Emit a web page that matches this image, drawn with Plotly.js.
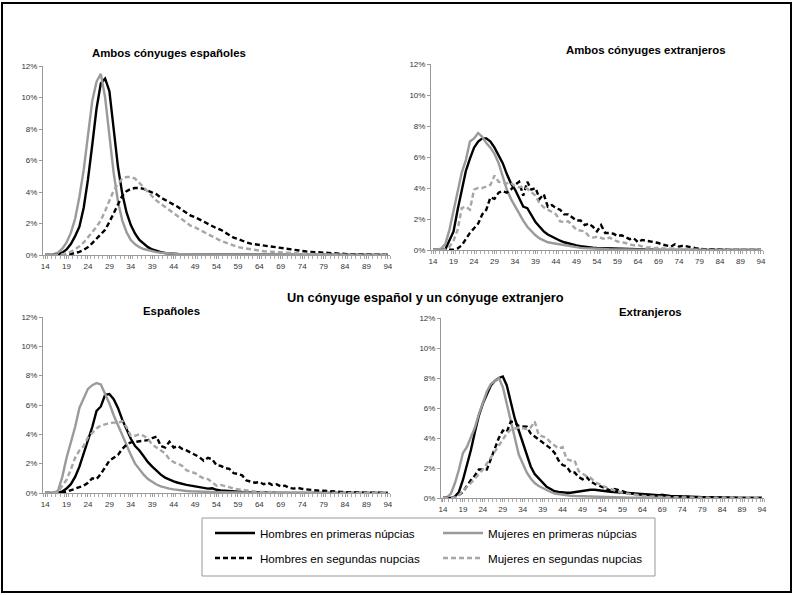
<!DOCTYPE html>
<html>
<head>
<meta charset="utf-8">
<script src="https://cdn.plot.ly/plotly-3.0.1.min.js"></script>
<style>html,body{margin:0;padding:0;background:#fff;}#chart{width:794px;height:595px;}</style>
</head>
<body>
<div id="chart"></div>
<script>
// Ages 14..94
const ages = [14,15,16,17,18,19,20,21,22,23,24,25,26,27,28,29,30,31,32,33,34,35,36,37,38,39,40,41,42,43,44,45,46,47,48,49,50,51,52,53,54,55,56,57,58,59,60,61,62,63,64,65,66,67,68,69,70,71,72,73,74,75,76,77,78,79,80,81,82,83,84,85,86,87,88,89,90,91,92,93,94];
const tickAges = [14,19,24,29,34,39,44,49,54,59,64,69,74,79,84,89,94];
const yTicks = [0,2,4,6,8,10,12];
const seriesNames = ["Hombres en primeras núpcias","Mujeres en primeras núpcias","Hombres en segundas nupcias","Mujeres en segundas nupcias"];
const panelTitles = ["Ambos cónyuges españoles","Ambos cónyuges extranjeros","Españoles","Extranjeros"];
const groupTitle = "Un cónyuge español y un cónyuge extranjero";

// Panel 1: Ambos cónyuges españoles (%)
const hom1Esp = [0,0,0,0.05,0.15,0.35,0.7,1.2,1.8,3.0, 4.8,7.0,9.3,10.9,11.2,10.4,8.0,5.6,3.9,2.7, 1.9,1.35,0.95,0.7,0.5,0.35,0.25,0.18,0.13,0.1, 0.07,0.05,0.04,0.03,0.03,0.02,0.02,0.02,0.01,0.01, 0.01,0.01,0.01,0.01,0.01,0.01,0,0,0,0, 0,0,0,0,0,0,0,0,0,0, 0,0,0,0,0,0,0,0,0,0, 0,0,0,0,0,0,0,0,0,0, 0];
const muj1Esp = [0,0,0.05,0.15,0.4,0.8,1.4,2.3,3.7,5.4, 7.6,9.8,11.0,11.5,10.0,7.5,5.2,3.4,2.2,1.45, 0.95,0.68,0.5,0.38,0.3,0.23,0.18,0.14,0.11,0.09, 0.07,0.06,0.05,0.04,0.03,0.03,0.02,0.02,0.01,0.01, 0.01,0.01,0.01,0,0,0,0,0,0,0, 0,0,0,0,0,0,0,0,0,0, 0,0,0,0,0,0,0,0,0,0, 0,0,0,0,0,0,0,0,0,0, 0];
const hom2Esp = [0,0,0,0,0.01,0.03,0.06,0.12,0.2,0.32, 0.5,0.75,1.05,1.35,1.6,2.1,2.65,3.2,3.75,4.05, 4.2,4.25,4.25,4.2,4.1,4.0,3.85,3.65,3.5,3.35, 3.25,3.05,2.85,2.65,2.5,2.4,2.25,2.1,1.95,1.8, 1.7,1.6,1.45,1.25,1.1,1.02,0.9,0.8,0.72,0.68, 0.65,0.6,0.55,0.5,0.47,0.43,0.4,0.36,0.32,0.28, 0.25,0.22,0.2,0.18,0.15,0.13,0.11,0.1,0.08,0.07, 0.06,0.05,0.04,0.04,0.03,0.03,0.02,0.02,0.01,0.01, 0.01];
const muj2Esp = [0,0,0,0.02,0.05,0.1,0.2,0.35,0.55,0.8, 1.1,1.45,1.8,2.2,2.8,3.5,4.1,4.5,4.85,4.95, 4.95,4.85,4.6,4.3,4.0,3.7,3.45,3.25,3.05,2.85, 2.65,2.45,2.3,2.1,1.85,1.75,1.6,1.45,1.3,1.15, 1.0,0.9,0.8,0.7,0.6,0.5,0.45,0.4,0.35,0.3, 0.27,0.24,0.22,0.2,0.17,0.15,0.13,0.12,0.1,0.09, 0.08,0.07,0.06,0.05,0.04,0.04,0.03,0.03,0.02,0.02, 0.02,0.01,0.01,0.01,0.01,0.01,0,0,0,0, 0];

// Panel 2: Ambos cónyuges extranjeros (%)
const hom1Ext = [0,0,0,0.05,0.6,1.2,2.6,3.9,5.1,5.9, 6.6,7.0,7.2,7.2,7.0,6.6,6.1,5.6,4.9,4.3, 3.9,3.3,2.8,2.7,2.2,1.8,1.5,1.2,1.0,0.85, 0.7,0.6,0.5,0.42,0.36,0.3,0.25,0.2,0.17,0.15, 0.13,0.12,0.1,0.09,0.08,0.07,0.06,0.05,0.04,0.04, 0.03,0.03,0.02,0.02,0.02,0.01,0.01,0.01,0.01,0.01, 0,0,0,0,0,0,0,0,0,0, 0,0,0,0,0,0,0,0,0,0, 0];
const muj1Ext = [0,0,0.1,0.4,1.3,2.5,3.9,5.0,5.8,7.0, 7.2,7.55,7.3,6.9,6.6,6.2,5.6,4.7,3.9,3.3, 2.8,2.3,1.9,1.5,1.2,0.95,0.75,0.6,0.5,0.45, 0.4,0.35,0.3,0.25,0.2,0.17,0.14,0.12,0.1,0.09, 0.08,0.07,0.06,0.05,0.05,0.04,0.04,0.03,0.03,0.02, 0.02,0.02,0.01,0.01,0.01,0.01,0,0,0,0, 0,0,0,0,0,0,0,0,0,0, 0,0,0,0,0,0,0,0,0,0, 0];
const hom2Ext = [0,0,0,0,0,0.02,0.1,0.3,0.7,1.1, 1.4,1.7,2.3,2.6,3.4,3.3,3.7,3.8,3.7,3.9, 4.2,4.4,3.5,4.4,3.9,4.0,3.3,3.6,2.8,2.9, 2.7,2.6,2.3,2.3,2.1,1.9,1.9,1.6,1.7,1.5, 1.2,1.6,1.1,1.1,1.05,0.9,0.95,0.85,0.7,0.75, 0.5,0.65,0.6,0.55,0.5,0.45,0.35,0.3,0.22,0.37, 0.22,0.28,0.22,0.18,0.12,0.1,0.05,0.06,0.04,0.03, 0.02,0.02,0.01,0.01,0.01,0.02,0.01,0,0,0, 0];
const muj2Ext = [0,0,0,0.05,0.2,0.6,1.3,2.7,2.8,2.6, 3.9,4.0,4.0,4.1,4.2,4.8,4.4,4.35,4.3,4.35, 4.1,4.05,4.1,3.95,3.7,3.5,3.0,2.75,2.6,2.45, 2.3,1.85,1.8,1.85,1.6,1.3,1.25,1.2,0.9,0.8, 0.85,0.75,0.7,0.8,0.65,0.55,0.5,0.45,0.35,0.3, 0.32,0.25,0.15,0.18,0.12,0.15,0.1,0.08,0.1,0.06, 0.05,0.04,0.03,0.03,0.02,0.01,0.01,0.01,0.01,0.01, 0.01,0,0,0,0,0,0,0,0,0, 0];

// Panel 3: Un cónyuge español y uno extranjero - Españoles (%)
const hom1MixEsp = [0,0,0,0.02,0.1,0.3,0.6,1.1,1.8,2.7, 3.5,4.5,5.6,5.9,6.7,6.75,6.4,5.8,5.0,4.3, 3.7,3.2,2.9,2.5,2.1,1.8,1.5,1.25,1.05,0.9, 0.8,0.7,0.6,0.55,0.5,0.45,0.4,0.35,0.3,0.32, 0.22,0.18,0.15,0.13,0.1,0.08,0.07,0.06,0.05,0.04, 0.04,0.03,0.03,0.02,0.02,0.02,0.01,0.01,0.01,0.01, 0,0,0,0,0,0,0,0,0,0, 0,0,0,0,0,0,0,0,0,0, 0];
const muj1MixEsp = [0,0,0.02,0.15,1.1,2.4,3.4,4.5,5.8,6.5, 7.1,7.35,7.5,7.4,6.8,6.1,5.3,4.6,3.9,3.2, 2.6,2.0,1.6,1.25,0.95,0.75,0.58,0.45,0.35,0.3, 0.25,0.2,0.17,0.14,0.12,0.1,0.09,0.08,0.07,0.06, 0.05,0.05,0.04,0.04,0.03,0.03,0.02,0.02,0.02,0.01, 0.01,0.01,0.01,0,0,0,0,0,0,0, 0,0,0,0,0,0,0,0,0,0, 0,0,0,0,0,0,0,0,0,0, 0];
const hom2MixEsp = [0,0,0,0,0.02,0.08,0.2,0.3,0.4,0.5, 0.7,1.0,0.95,1.3,1.8,2.2,2.4,2.6,3.0,3.3, 3.45,3.5,3.5,3.55,3.6,3.75,3.85,3.2,3.1,3.5, 3.1,3.2,3.0,2.9,2.75,2.6,2.45,2.2,2.4,2.3, 1.9,1.85,1.7,1.65,1.35,1.3,1.2,0.85,0.8,0.7, 0.75,0.6,0.7,0.55,0.6,0.45,0.5,0.35,0.3,0.35, 0.28,0.25,0.18,0.2,0.15,0.15,0.12,0.1,0.1,0.08, 0.06,0.05,0.04,0.03,0.02,0.02,0.01,0.01,0,0, 0];
const muj2MixEsp = [0,0,0,0.05,0.5,0.9,1.6,2.4,2.9,3.2, 3.8,4.1,4.4,4.6,4.7,4.75,4.8,4.8,4.9,4.5, 3.9,3.9,4.0,3.9,3.7,3.3,3.1,2.9,2.7,2.3, 2.1,2.0,1.85,1.55,1.45,1.35,1.15,1.0,0.95,0.7, 0.5,0.55,0.5,0.4,0.3,0.25,0.2,0.15,0.12,0.1, 0.08,0.07,0.06,0.05,0.04,0.04,0.03,0.03,0.02,0.02, 0.02,0.01,0.01,0.01,0.01,0.01,0.01,0.01,0.01,0.01, 0,0,0,0,0,0,0,0,0,0, 0];

// Panel 4: Un cónyuge español y uno extranjero - Extranjeros (%)
const hom1MixExt = [0,0,0,0.1,0.4,1.2,2.2,3.2,4.4,5.5, 6.3,6.9,7.5,7.8,8.0,8.1,7.5,6.4,5.3,4.5, 3.7,2.8,2.1,1.6,1.3,1.0,0.75,0.6,0.45,0.4, 0.35,0.35,0.35,0.4,0.45,0.5,0.55,0.55,0.55,0.5, 0.5,0.45,0.42,0.4,0.4,0.38,0.35,0.32,0.3,0.28, 0.25,0.22,0.2,0.2,0.18,0.2,0.15,0.13,0.12,0.12, 0.1,0.1,0.08,0.08,0.07,0.06,0.05,0.04,0.03,0.03, 0.02,0.02,0.01,0.01,0.01,0.01,0,0,0,0, 0];
const muj1MixExt = [0,0.05,0.3,1.0,1.9,3.0,3.4,4.0,4.7,5.6, 6.4,7.1,7.6,7.8,8.0,7.4,6.3,5.1,3.9,2.9, 2.3,1.7,1.3,1.0,0.8,0.65,0.5,0.4,0.3,0.25, 0.2,0.17,0.15,0.13,0.12,0.1,0.1,0.08,0.08,0.07, 0.06,0.05,0.05,0.04,0.04,0.03,0.03,0.02,0.02,0.02, 0.01,0.01,0.01,0.01,0.01,0,0,0,0,0, 0,0,0,0,0,0,0,0,0,0, 0,0,0,0,0,0,0,0,0,0, 0];
const hom2MixExt = [0,0,0,0.05,0.2,0.4,0.8,1.2,1.5,1.9, 1.9,1.9,2.6,3.3,4.0,4.5,4.4,5.1,5.05,4.8, 4.8,4.75,4.3,4.1,3.9,3.7,3.5,3.3,3.0,2.5, 2.2,2.1,1.7,1.7,1.4,1.25,1.4,1.1,0.95,0.85, 0.7,0.6,0.5,0.6,0.55,0.45,0.35,0.3,0.28,0.25, 0.22,0.2,0.2,0.18,0.17,0.2,0.15,0.12,0.12,0.1, 0.1,0.08,0.07,0.06,0.06,0.05,0.04,0.04,0.03,0.02, 0.02,0.01,0.01,0.01,0.01,0.01,0.01,0.01,0.01,0.01, 0.01];
const muj2MixExt = [0,0,0,0.05,0.2,0.45,0.7,1.0,1.3,1.6, 1.9,2.3,2.7,3.1,3.5,3.9,4.3,4.55,4.65,4.7, 4.65,4.6,4.7,5.1,4.2,4.1,4.0,3.7,3.5,3.3, 3.4,2.6,2.5,2.5,1.8,1.6,1.45,1.35,1.1,0.95, 0.8,0.7,0.6,0.5,0.4,0.35,0.3,0.25,0.2,0.18, 0.15,0.12,0.1,0.1,0.08,0.07,0.06,0.05,0.05,0.04, 0.04,0.03,0.03,0.02,0.02,0.02,0.01,0.01,0.01,0.01, 0,0,0,0,0,0,0,0,0,0, 0];

const panels = [
  [hom1Esp, muj1Esp, hom2Esp, muj2Esp],
  [hom1Ext, muj1Ext, hom2Ext, muj2Ext],
  [hom1MixEsp, muj1MixEsp, hom2MixEsp, muj2MixEsp],
  [hom1MixExt, muj1MixExt, hom2MixExt, muj2MixExt]
];

const W = 794, H = 595;
const FONT = '"Liberation Sans", Arial, sans-serif';
const lineStyles = [
  {color: '#000000', width: 2.4, dash: 'solid'},
  {color: '#9a9a9a', width: 2.4, dash: 'solid'},
  {color: '#000000', width: 2.4, dash: '5px,3px'},
  {color: '#a6a6a6', width: 2.4, dash: '5px,3px'}
];
const legendIds = ['legend', 'legend2', 'legend3', 'legend4'];

const traces = [];
panels.forEach((series, p) => {
  const ax = p === 0 ? '' : String(p + 1);
  series.forEach((vals, s) => {
    traces.push({
      type: 'scatter', mode: 'lines',
      x: ages, y: vals,
      xaxis: 'x' + ax, yaxis: 'y' + ax,
      name: seriesNames[s],
      line: lineStyles[s],
      showlegend: p === 0,
      legend: legendIds[s],
      hoverinfo: 'skip'
    });
  });
});

// pixel boxes of plot areas: [left, right, bottom(0%), top(12%)]
const boxes = [
  [43, 390, 255, 66],
  [431, 763, 250, 64],
  [43, 390, 493, 317],
  [441, 764, 498, 318]
];

function xa(b) {
  return {
    domain: [b[0] / W, b[1] / W], range: [13.5, 94.5],
    tickmode: 'array', tickvals: tickAges, ticktext: tickAges.map(String),
    ticks: 'outside', ticklen: 3, tickcolor: '#999', tickwidth: 1,
    minor: {dtick: 1, tick0: 13.5, ticks: 'outside', ticklen: 3, tickcolor: '#aaa', tickwidth: 1},
    showline: true, linecolor: '#999', linewidth: 1,
    showgrid: false, zeroline: false,
    tickfont: {family: FONT, size: 8, color: '#333'}, fixedrange: true
  };
}
function ya(b) {
  return {
    domain: [1 - b[2] / H, 1 - b[3] / H], range: [0, 12],
    tickmode: 'array', tickvals: yTicks, ticktext: yTicks.map(v => v + '%'),
    ticks: 'outside', ticklen: 3, tickcolor: '#999',
    showline: true, linecolor: '#999', linewidth: 1,
    showgrid: false, zeroline: false,
    tickfont: {family: FONT, size: 8, color: '#333'}, fixedrange: true
  };
}

const layout = {
  width: W, height: H,
  margin: {l: 0, r: 0, t: 0, b: 0},
  paper_bgcolor: '#fff', plot_bgcolor: 'rgba(0,0,0,0)',
  font: {family: FONT, color: '#000'},
  showlegend: true,
  annotations: [
    {text: '<b>' + panelTitles[0] + '</b>', x: 169 / W, y: 1 - 53 / H},
    {text: '<b>' + panelTitles[1] + '</b>', x: 646 / W, y: 1 - 50 / H},
    {text: '<b>' + groupTitle + '</b>', x: 425 / W, y: 1 - 297 / H, size: 12.8},
    {text: '<b>' + panelTitles[2] + '</b>', x: 171 / W, y: 1 - 311 / H},
    {text: '<b>' + panelTitles[3] + '</b>', x: 650 / W, y: 1 - 312 / H}
  ].map(a => ({
    text: a.text, x: a.x, y: a.y, xref: 'paper', yref: 'paper',
    xanchor: 'center', yanchor: 'middle', showarrow: false,
    font: {family: FONT, size: a.size || 11.4, color: '#000'}
  })),
  shapes: [
    {type: 'rect', xref: 'paper', yref: 'paper', x0: 2 / W, x1: 791 / W, y0: 1 - 592 / H, y1: 1 - 3 / H,
     line: {color: '#000', width: 2}},
    {type: 'rect', xref: 'paper', yref: 'paper', x0: 202 / W, x1: 655 / W, y0: 1 - 576 / H, y1: 1 - 518 / H,
     line: {color: '#999', width: 1}}
  ]
};

const legendPos = [[210, 533], [438, 533], [210, 558], [438, 558]];
legendIds.forEach((id, i) => {
  layout[id] = {
    x: legendPos[i][0] / W, y: 1 - legendPos[i][1] / H,
    xanchor: 'left', yanchor: 'middle', orientation: 'h',
    bgcolor: 'rgba(0,0,0,0)', borderwidth: 0,
    font: {family: FONT, size: 11.6, color: '#000'},
    itemwidth: 40
  };
});

boxes.forEach((b, i) => {
  const k = i === 0 ? '' : String(i + 1);
  layout['xaxis' + k] = Object.assign(xa(b), {anchor: 'y' + k});
  layout['yaxis' + k] = Object.assign(ya(b), {anchor: 'x' + k});
});

Plotly.newPlot('chart', traces, layout, {displayModeBar: false, staticPlot: true});
</script>
</body>
</html>
